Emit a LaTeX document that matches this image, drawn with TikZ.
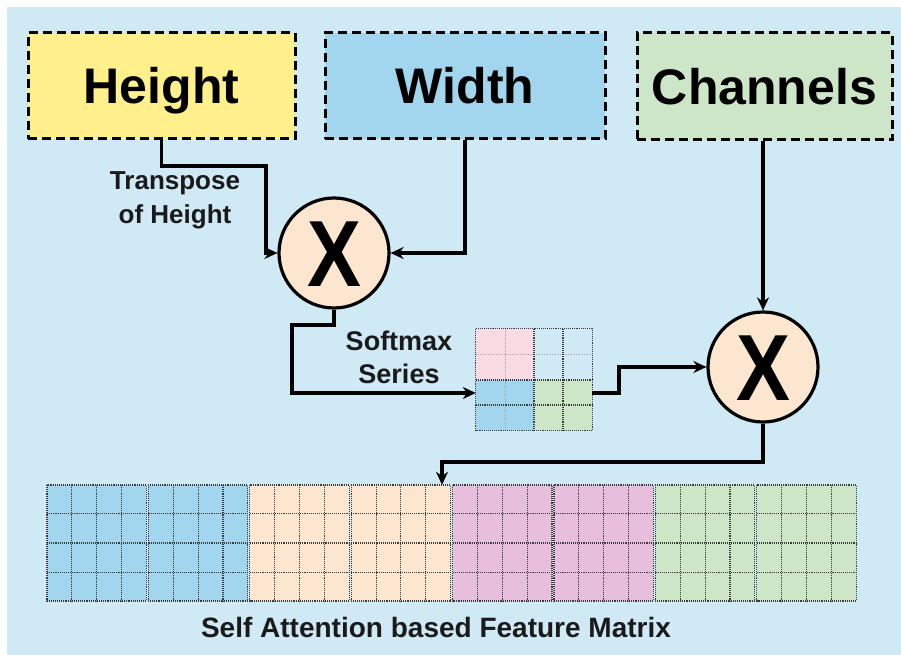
\documentclass[tikz,border=0pt]{standalone}
\usepackage{fontspec}
\setmainfont{Liberation Sans}
\usetikzlibrary{arrows.meta}
\definecolor{bgc}{HTML}{CFE9F5}
\definecolor{yelc}{HTML}{FFF08C}
\definecolor{bluc}{HTML}{A2D5EE}
\definecolor{grnc}{HTML}{CDE6C8}
\definecolor{beic}{HTML}{FCE6CF}
\definecolor{pnkc}{HTML}{E8BEDD}
\definecolor{lpkc}{HTML}{FADBE3}
\definecolor{txtc}{HTML}{1A1A1A}
\definecolor{gridc}{HTML}{3A3A3A}
\tikzset{
  box/.style={draw=black, line width=3pt, dash pattern=on 9pt off 5pt, inner sep=0pt,
    text height=36pt, text depth=0pt, font=\fontsize{50}{50}\selectfont\bfseries, text=black},
  mult/.style={circle, draw=black, line width=3.2pt, fill=beic, minimum size=110pt, inner sep=0pt,
    text height=67pt, text depth=0pt, font=\fontsize{94}{94}\selectfont\bfseries, text=black},
  conn/.style={line width=3.2pt, -{Stealth[length=13pt,width=12pt]}},
  lab/.style={inner sep=0pt, text=txtc, font=\fontsize{27}{33}\selectfont\bfseries, align=center},
  gridline/.style={gridc, line width=1.1pt, densely dotted},
  faintline/.style={gridc!45, line width=1pt, densely dotted}
}
\begin{document}
\begin{tikzpicture}[x=1pt,y=-1pt]
\useasboundingbox (0,0) rectangle (901,655);
\fill[white] (-5,-5) rectangle (910,665);
\fill[bgc] (7,7) rectangle (910,665);

% top boxes
\node[box, fill=yelc, minimum width=267pt, minimum height=106pt] (height) at (161.5,86) {Height};
\node[box, fill=bluc, minimum width=280pt, minimum height=106pt] (width) at (465,86) {Width};
\node[box, fill=grnc, minimum width=255pt, minimum height=107pt] (channels) at (764.5,86.5) {Channels};

% multiplication circles
\node[mult] (c1) at (334,253) {\scalebox{0.86}[1]{X}};
\node[mult] (c2) at (763,367) {\scalebox{0.86}[1]{X}};

% labels
\node[lab, font=\fontsize{26}{34}\selectfont\bfseries] (tlab) at (175,200.5) {Transpose\\of Height};
\node[lab] (slab) at (399,357) {Softmax\\Series};
\node[lab, font=\fontsize{28}{28}\selectfont\bfseries, anchor=base] (title) at (436,637) {Self Attention based Feature Matrix};

% softmax matrix
\node[minimum width=116pt, minimum height=101pt, inner sep=0pt] (sm) at (534,379.5) {};
\fill[lpkc] (476,329) rectangle (534,380);
\fill[bluc] (476,380) rectangle (534,430);
\fill[grnc] (534,380) rectangle (592,430);
\draw[faintline] (505,329) -- (505,430);
\draw[faintline] (476,354.5) -- (592,354.5);
\draw[gridline] (534,329) -- (534,430);
\draw[gridline] (563,329) -- (563,430);
\draw[gridline] (476,380) -- (592,380);
\draw[gridline] (476,405) -- (592,405);
\draw[gridline] (sm.north west) rectangle (sm.south east);

% big feature matrix
\node[minimum width=811pt, minimum height=116pt, inner sep=0pt] (big) at (451.5,543) {};
\foreach \i/\c in {0/bluc,1/bluc,2/beic,3/beic,4/pnkc,5/pnkc,6/grnc,7/grnc}{
  \pgfmathsetmacro{\xa}{46+101.4*\i+1}
  \pgfmathsetmacro{\xb}{46+101.4*(\i+1)-1}
  \pgfmathsetmacro{\cw}{(\xb-\xa)/4}
  \fill[\c] (\xa,485) rectangle (\xb,601);
  \foreach \k in {1,2,3}{
    \draw[gridline] (\xa+\k*\cw,485) -- (\xa+\k*\cw,601);
  }
  \draw[gridline] (\xa,513.5) -- (\xb,513.5);
  \draw[gridline] (\xa,543) -- (\xb,543);
  \draw[gridline] (\xa,572.5) -- (\xb,572.5);
  \draw[gridline] (\xa,485) rectangle (\xb,601);
}

% connectors
\coordinate (b1) at (266,166);
\draw[conn] (height.south) |- (b1) |- (c1.west);
\draw[conn] (width.south) |- (c1.east);
\draw[conn] (channels.south -| c2.north) -- (c2.north);
\coordinate (b2) at (292,325);
\draw[conn] (c1.south) |- (b2) |- ([yshift=-13.5pt]sm.west);
\coordinate (b3) at (619,367);
\draw[conn] ([yshift=-13.5pt]sm.east) -| (b3) -- (c2.west);
\coordinate (b4) at (442,462);
\draw[conn] (c2.south) |- (b4) -- (b4 |- big.north);
\end{tikzpicture}
\end{document}
